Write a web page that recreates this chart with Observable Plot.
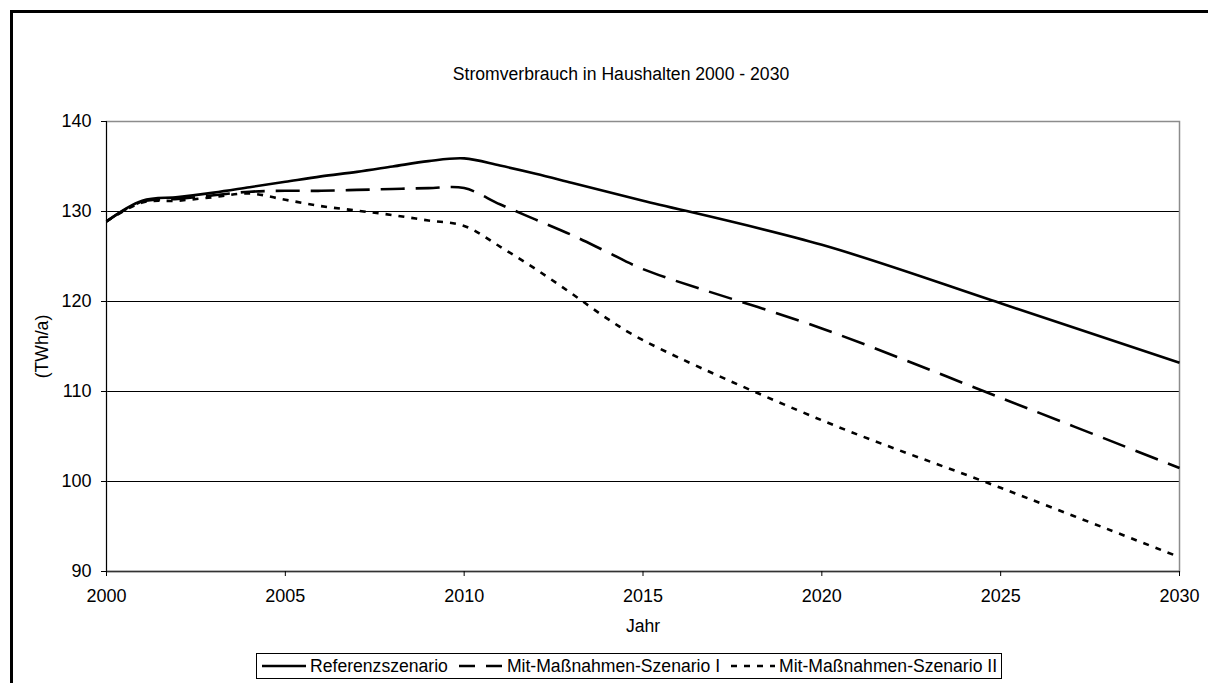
<!DOCTYPE html>
<html>
<head>
<meta charset="utf-8">
<script src="https://cdn.jsdelivr.net/npm/d3@7"></script>
<script src="https://cdn.jsdelivr.net/npm/@observablehq/plot@0.6"></script>
<style>
  html, body { margin: 0; padding: 0; background: white; overflow: hidden; }
  body { width: 1208px; height: 683px; position: relative; font-family: "Liberation Sans", Arial, sans-serif; color: black; }
  #frame { position: absolute; left: 10px; top: 10px; width: 1400px; height: 900px; border: 3px solid black; box-sizing: border-box; }
  #title { position: absolute; left: 10px; width: 1222px; top: 64px; text-align: center; font-size: 17.6px; line-height: 20px; }
  #chart { position: absolute; left: 0; top: 90px; }
  #legend { position: absolute; left: 256px; top: 653px; height: 26px; box-sizing: border-box; border: 1px solid black; display: flex; align-items: center; padding: 0 4px; font-size: 17.6px; white-space: nowrap; background: white; }
  .item { display: flex; align-items: center; margin-right: 10px; }
  .item:last-child { margin-right: 0; }
  .item svg { margin-right: 3px; }
</style>
</head>
<body>
<div id="frame"></div>
<div id="title"></div>
<div id="chart"></div>
<div id="legend"></div>
<script>
// ---- Data ----
const years        = [2000, 2001, 2002, 2003, 2004, 2005, 2006, 2007, 2008, 2009, 2010, 2011, 2012, 2013, 2014, 2015, 2020, 2025, 2030];
const referenz     = [128.9, 131.2, 131.6, 132.1, 132.7, 133.3, 133.9, 134.4, 135.0, 135.6, 135.9, 135.1, 134.2, 133.2, 132.2, 131.2, 126.3, 119.8, 113.2];
const massnahmen1  = [128.9, 131.1, 131.4, 131.8, 132.2, 132.3, 132.3, 132.4, 132.5, 132.6, 132.6, 130.8, 129.1, 127.4, 125.5, 123.6, 117.0, 109.3, 101.5];
const massnahmen2  = [128.9, 131.0, 131.2, 131.6, 132.0, 131.3, 130.6, 130.1, 129.6, 129.0, 128.4, 126.1, 123.6, 120.9, 118.1, 115.7, 106.8, 99.3, 91.6];
const seriesNames  = ["Referenzszenario", "Mit-Maßnahmen-Szenario I", "Mit-Maßnahmen-Szenario II"];
const xTicks       = [2000, 2005, 2010, 2015, 2020, 2025, 2030];
const yTicks       = [90, 100, 110, 120, 130, 140];
const gridValues   = [100, 110, 120, 130];
const title        = "Stromverbrauch in Haushalten 2000 - 2030";
const xLabel       = "Jahr";
const yLabel       = "(TWh/a)";

const dashes = ["none", "24,11", "6,7"];
const seriesValues = [referenz, massnahmen1, massnahmen2];
const rows = seriesValues.map((vals, i) => years.map((yr, j) => ({series: seriesNames[i], year: yr, value: vals[j]})));

const lineMarks = rows.map((r, i) => Plot.line(r, {
  x: "year", y: "value", stroke: "black", strokeWidth: 2.6,
  strokeDasharray: dashes[i], curve: "catmull-rom", strokeLinecap: "butt"
}));

const chart = Plot.plot({
  width: 1208,
  height: 560,
  marginLeft: 106,
  marginRight: 29,
  marginTop: 31,
  marginBottom: 79,
  style: { fontFamily: "'Liberation Sans', Arial, sans-serif", fontSize: "18px", background: "transparent", color: "black" },
  x: { domain: [2000, 2030], label: null },
  y: { domain: [90, 140], label: null },
  marks: [
    Plot.ruleY(gridValues, { stroke: "black", strokeWidth: 1 }),
    Plot.frame({ stroke: "#8c8c8c", strokeWidth: 1.5 }),
    Plot.ruleX([2000], { stroke: "black", strokeWidth: 1 }),
    Plot.ruleY([90], { stroke: "#333", strokeWidth: 1.5 }),
    Plot.axisX({ ticks: xTicks, tickFormat: d => String(d), tickSize: 5, tickPadding: 13, label: null, stroke: "black", fill: "black" }),
    Plot.axisY({ ticks: yTicks, tickSize: 5, tickPadding: 10, label: null, stroke: "black", fill: "black" }),
    ...lineMarks,
    Plot.text([xLabel], { text: d => d, frameAnchor: "bottom", dy: 55, fontSize: 17.6, lineAnchor: "middle", textAnchor: "middle" }),
    Plot.text([yLabel], { text: d => d, frameAnchor: "left", dx: -64, rotate: -90, fontSize: 17.6, lineAnchor: "middle", textAnchor: "middle" })
  ]
});
document.getElementById("chart").appendChild(chart);
document.getElementById("title").textContent = title;

// Legend
const legend = document.getElementById("legend");
const legendDash = ["none", "16,11", "6,7"];
seriesNames.forEach((name, i) => {
  const item = document.createElement("div");
  item.className = "item";
  const ns = "http://www.w3.org/2000/svg";
  const s = document.createElementNS(ns, "svg");
  s.setAttribute("width", 46); s.setAttribute("height", 10);
  const l = document.createElementNS(ns, "line");
  l.setAttribute("x1", 1); l.setAttribute("x2", 45); l.setAttribute("y1", 5); l.setAttribute("y2", 5);
  l.setAttribute("stroke", "black"); l.setAttribute("stroke-width", 2.6);
  if (legendDash[i] !== "none") l.setAttribute("stroke-dasharray", legendDash[i]);
  s.appendChild(l);
  item.appendChild(s);
  const t = document.createElement("span");
  t.textContent = name;
  item.appendChild(t);
  legend.appendChild(item);
});
</script>
</body>
</html>
